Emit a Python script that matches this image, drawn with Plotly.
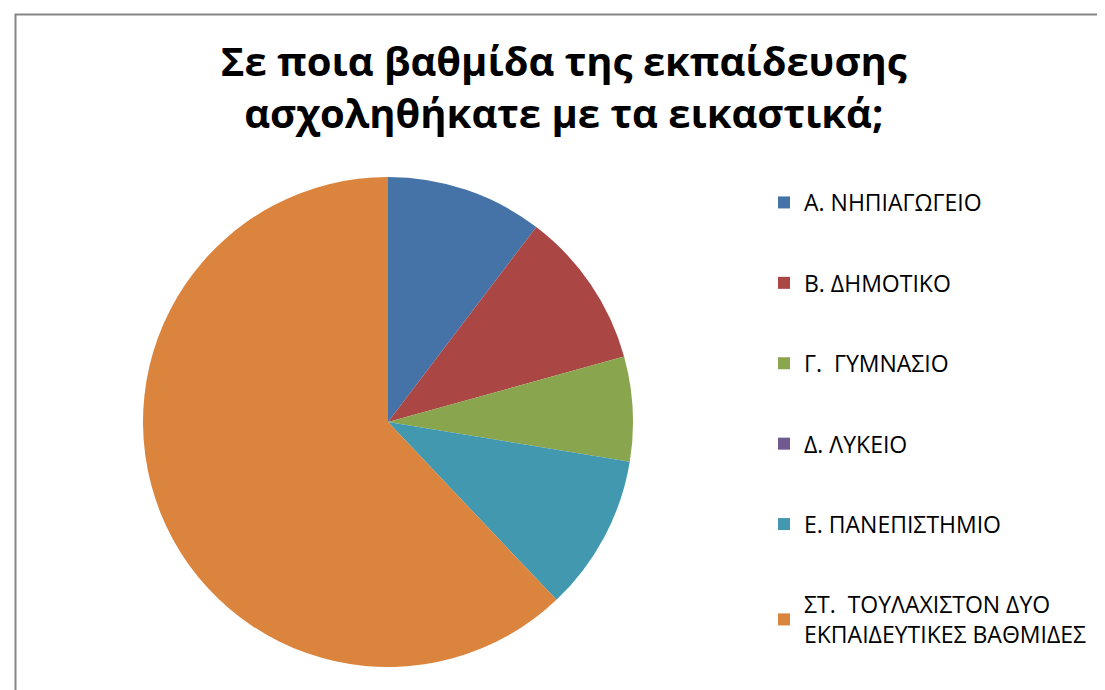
import plotly.graph_objects as go

categories = ["Α. ΝΗΠΙΑΓΩΓΕΙΟ", "Β. ΔΗΜΟΤΙΚΟ", "Γ.  ΓΥΜΝΑΣΙΟ", "Δ. ΛΥΚΕΙΟ",
              "Ε. ΠΑΝΕΠΙΣΤΗΜΙΟ", "ΣΤ.  ΤΟΥΛΑΧΙΣΤΟΝ ΔΥΟ<br>ΕΚΠΑΙΔΕΥΤΙΚΕΣ ΒΑΘΜΙΔΕΣ"]
values = [3, 3, 2, 0, 3, 18]
colors = ["#4572A7", "#AA4643", "#89A54E", "#71588F", "#4198AF", "#DB843D"]
title_text = "Σε ποια βαθμίδα της εκπαίδευσης<br>ασχοληθήκατε με τα εικαστικά;"

W, H = 1105, 690
cx, cy, r = 380, 414, 245

fig = go.Figure()
fig.add_trace(go.Pie(
    labels=categories, values=values, sort=False, direction="clockwise", rotation=0,
    marker=dict(colors=colors, line=dict(width=0)), textinfo="none", showlegend=False,
    domain=dict(x=[(cx - r) / W, (cx + r) / W], y=[1 - (cy + r) / H, 1 - (cy - r) / H]),
))
for i, (lab, col) in enumerate(zip(categories, colors)):
    fig.add_trace(go.Scatter(
        x=[None], y=[None], mode="markers", name=lab, legendgroup=f"g{i}",
        marker=dict(symbol="square", size=14, color=col),
    ))

fig.update_layout(
    width=W, height=H,
    margin=dict(l=0, r=0, t=0, b=0),
    paper_bgcolor="white", plot_bgcolor="white",
    font=dict(family="'Open Sans', 'Noto Sans', sans-serif", color="black"),
    title=dict(text=title_text, x=0.503, xanchor="center", y=1 - 68 / H, yanchor="middle",
               font=dict(size=40, family="'Open Sans', 'Noto Sans', sans-serif", color="black", weight="bold")),
    xaxis=dict(visible=False), yaxis=dict(visible=False),
    legend=dict(x=756 / W, xanchor="left", y=1 - 173 / H, yanchor="top",
                font=dict(size=23), tracegroupgap=47.5, itemsizing="constant",
                bgcolor="rgba(0,0,0,0)"),
    shapes=[dict(type="rect", xref="paper", yref="paper",
                 x0=7.5 / W, x1=1.02, y0=-0.02, y1=1 - 6.5 / H,
                 line=dict(color="#868686", width=2), fillcolor="rgba(0,0,0,0)")],
)
fig.write_html("out.html")
